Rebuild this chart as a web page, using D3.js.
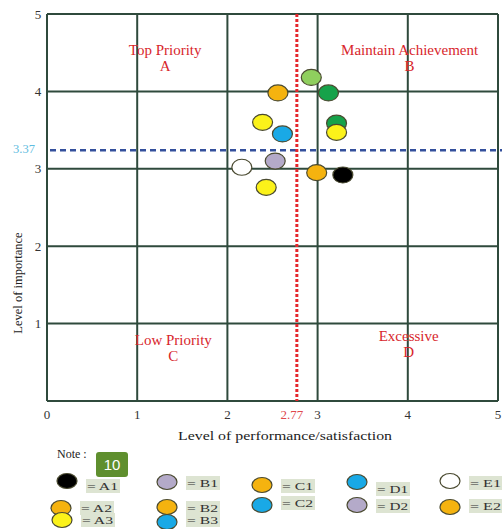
<!DOCTYPE html>
<html><head><meta charset="utf-8">
<script src="https://cdn.jsdelivr.net/npm/d3@7"></script>
<style>body{margin:0;background:#fff}svg{display:block}</style>
</head><body>
<script>
// ---- data ----
const xTicks = [0, 1, 2, 3, 4, 5];
const yTicks = [1, 2, 3, 4, 5];
const perfMean = 2.77;          // red dotted line
const impLineValue = 3.24;      // where the blue dashed line is drawn
const impLineLabel = "3.37";    // label printed on the blue line
const pointIds    = ["G1","A2","G2","A3","G3","A3b","B3","B1","E1","C1","A1","A3c"];
const pointPerf   = [2.93, 2.56, 3.12, 2.39, 3.21, 3.21, 2.61, 2.53, 2.16, 2.99, 3.28, 2.43];
const pointImp    = [4.18, 3.98, 3.98, 3.60, 3.59, 3.47, 3.45, 3.10, 3.02, 2.95, 2.92, 2.76];
const pointColors = ["#8fcf5e","#f5b30f","#16a24a","#fbf21a","#16a24a","#fbf21a","#19a9e6","#b4aac9","#ffffff","#f5b30f","#000000","#fbf21a"];
const quadNames   = ["Top Priority","Maintain Achievement","Low Priority","Excessive"];
const quadLetters = ["A","B","C","D"];
const quadX       = [1.31, 4.02, 1.40, 4.01];
const quadY       = [4.54, 4.54, 0.79, 0.84];
const legendLabels = ["A1","A2","A3","B1","B2","B3","C1","C2","D1","D2","E1","E2"];
const legendColors = ["#000000","#f5b30f","#fbf21a","#b4aac9","#f5b30f","#19a9e6","#f5b30f","#19a9e6","#19a9e6","#b4aac9","#ffffff","#f5b30f"];

// ---- drawing ----
const W = 502, H = 529;
const svg = d3.select("body").append("svg").attr("width", W).attr("height", H);
const serif = "'Liberation Serif','Times New Roman','DejaVu Serif',serif";
const x = d3.scaleLinear().domain([0, 5]).range([47, 498]);
const y = d3.scaleLinear().domain([0, 5]).range([401, 14]);
const gridCol = "#2f4a3c";

// grid
svg.append("g").selectAll("line").data(xTicks).join("line")
  .attr("x1", d => x(d)).attr("x2", d => x(d)).attr("y1", y(0)).attr("y2", y(5))
  .attr("stroke", gridCol).attr("stroke-width", 2);
svg.append("g").selectAll("line").data([0].concat(yTicks)).join("line")
  .attr("x1", x(0)).attr("x2", x(5)).attr("y1", d => y(d)).attr("y2", d => y(d))
  .attr("stroke", gridCol).attr("stroke-width", 2);

// tick labels
svg.append("g").selectAll("text").data(yTicks).join("text")
  .attr("x", 38).attr("y", d => y(d)).attr("dy", "0.35em").attr("text-anchor", "middle")
  .attr("font-family", serif).attr("font-size", 13).attr("fill", "#333").text(d => d);
svg.append("g").selectAll("text").data(xTicks).join("text")
  .attr("x", d => x(d)).attr("y", 414).attr("dy", "0.35em").attr("text-anchor", "middle")
  .attr("font-family", serif).attr("font-size", 13).attr("fill", "#333").text(d => d);
svg.append("text").attr("x", x(perfMean) - 5).attr("y", 414).attr("dy", "0.35em")
  .attr("text-anchor", "middle").attr("font-family", serif).attr("font-size", 13)
  .attr("fill", "#e0474c").text(perfMean);

// reference lines
svg.append("line").attr("x1", x(0) + 3).attr("x2", W).attr("y1", y(impLineValue)).attr("y2", y(impLineValue))
  .attr("stroke", "#34509c").attr("stroke-width", 2.5).attr("stroke-dasharray", "6,4");
svg.append("text").attr("x", 24).attr("y", y(impLineValue) - 2).attr("dy", "0.35em")
  .attr("text-anchor", "middle").attr("font-family", serif).attr("font-size", 12.5)
  .attr("fill", "#5fbce0").text(impLineLabel);
svg.append("line").attr("x1", x(perfMean)).attr("x2", x(perfMean)).attr("y1", y(5)).attr("y2", y(0))
  .attr("stroke", "#e5262b").attr("stroke-width", 3).attr("stroke-dasharray", "3,2");

// quadrant labels
const q = svg.append("g").selectAll("g").data(quadNames).join("g");
q.append("text").attr("x", (d, i) => x(quadX[i])).attr("y", (d, i) => y(quadY[i]))
  .attr("text-anchor", "middle").attr("dy", "0.35em").attr("font-family", serif).attr("font-size", 15)
  .attr("fill", "#d8262c").text(d => d);
q.append("text").attr("x", (d, i) => x(quadX[i])).attr("y", (d, i) => y(quadY[i]) + 16)
  .attr("text-anchor", "middle").attr("dy", "0.35em").attr("font-family", serif).attr("font-size", 15)
  .attr("fill", "#d8262c").text((d, i) => quadLetters[i]);

// points
svg.append("g").selectAll("ellipse").data(pointIds).join("ellipse")
  .attr("cx", (d, i) => x(pointPerf[i])).attr("cy", (d, i) => y(pointImp[i]))
  .attr("rx", 10).attr("ry", 8).attr("fill", (d, i) => pointColors[i])
  .attr("stroke", "#4a4a30").attr("stroke-width", 1.2);

// axis titles
svg.append("text").attr("transform", "translate(18,283) rotate(-90)").attr("text-anchor", "middle")
  .attr("dy", "0.35em").attr("font-family", serif).attr("font-size", 12.5).attr("fill", "#222")
  .text("Level of importance");
svg.append("text").attr("x", 178).attr("y", 435).attr("dy", "0.35em")
  .attr("font-family", serif).attr("font-size", 13).attr("fill", "#222")
  .attr("textLength", 214).attr("lengthAdjust", "spacingAndGlyphs")
  .text("Level of performance/satisfaction");

// legend
svg.append("text").attr("x", 57).attr("y", 454).attr("dy", "0.35em").attr("font-family", serif)
  .attr("font-size", 12).attr("fill", "#222").text("Note :");
const legPos = {
  A1: [67, 481, 486], A2: [61, 508, 508], A3: [62, 520, 520],
  B1: [167, 482, 483], B2: [167, 507, 508], B3: [167, 522, 520],
  C1: [262, 485, 486], C2: [262, 505, 503],
  D1: [357, 482, 489], D2: [357, 505, 506],
  E1: [450, 481, 483], E2: [450, 507, 506]
};
const lg = svg.append("g").selectAll("g").data(legendLabels).join("g");
lg.append("rect")
  .attr("x", d => legPos[d][0] + 19).attr("y", d => legPos[d][2] - 7)
  .attr("width", 34).attr("height", 14).attr("fill", "#dde4d2");
lg.append("ellipse").attr("cx", d => legPos[d][0]).attr("cy", d => legPos[d][1])
  .attr("rx", 10).attr("ry", 7.5).attr("fill", (d, i) => legendColors[i])
  .attr("stroke", "#4a4a30").attr("stroke-width", 1.2);
lg.append("text").attr("x", d => legPos[d][0] + 20).attr("y", d => legPos[d][2]).attr("dy", "0.35em")
  .attr("font-family", serif).attr("font-size", 11).attr("fill", "#333")
  .attr("textLength", 31).attr("lengthAdjust", "spacingAndGlyphs").text(d => "= " + d);

// badge
svg.append("rect").attr("x", 96).attr("y", 452).attr("width", 32).attr("height", 25).attr("rx", 3)
  .attr("fill", "#5f8f2e");
svg.append("text").attr("x", 112).attr("y", 465).attr("dy", "0.35em").attr("text-anchor", "middle")
  .attr("font-family", "'Liberation Sans',Arial,sans-serif").attr("font-size", 15).attr("fill", "#fff").text("10");
</script>
</body></html>
